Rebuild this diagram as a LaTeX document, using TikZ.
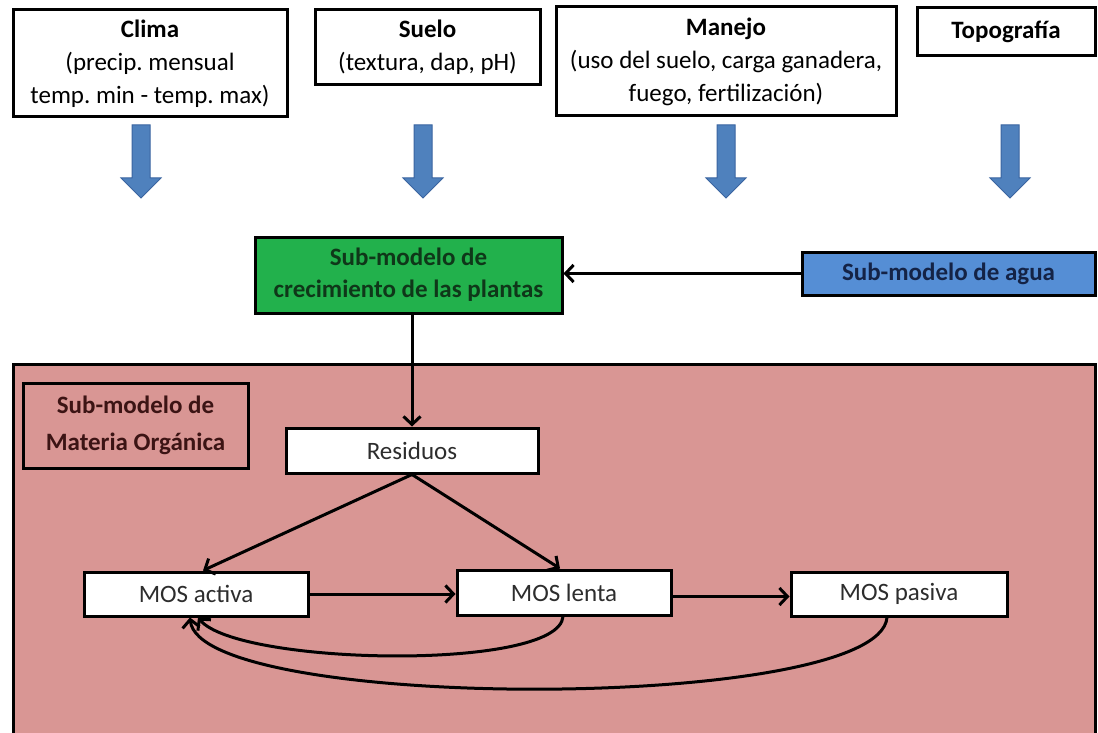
\documentclass[tikz,border=0pt]{standalone}
\usepackage{fontspec}
\setmainfont{Carlito}
\usetikzlibrary{arrows.meta}
\frenchspacing
\definecolor{boxgreen}{RGB}{34,177,76}
\definecolor{boxblue}{RGB}{85,142,213}
\definecolor{pinkbg}{RGB}{217,150,148}
\definecolor{arrowblue}{RGB}{79,129,189}
\definecolor{arrowedge}{RGB}{58,100,160}
\definecolor{gtext}{RGB}{15,55,25}
\definecolor{btext}{RGB}{20,35,70}
\definecolor{mtext}{RGB}{60,20,20}
\definecolor{wtext}{RGB}{45,45,45}
\tikzset{
  basebox/.style={draw=black, line width=3pt, rectangle, inner sep=0pt, align=center,
    font=\fontsize{25}{33}\selectfont},
  topbox/.style={basebox, fill=white},
  whitebox/.style={basebox, fill=white, text=wtext},
  conn/.style={line width=3pt, draw=black, -{Straight Barb[length=8pt,width=17pt,line width=3pt]}},
  bigarrow/.style={fill=arrowblue, draw=arrowedge, line width=1pt, line join=miter}
}
\begin{document}
\begin{tikzpicture}[x=1pt,y=-1pt]
\useasboundingbox (0,0) rectangle (1098,733);
\fill[white] (0,0) rectangle (1098,733);

% top boxes
\node[topbox, minimum width=274pt, minimum height=107pt] (clima) at (150,63.5)
  {\textbf{Clima}\\(precip. mensual\\temp. min - temp. max)};
\node[topbox, minimum width=225pt, minimum height=75pt] (suelo) at (427.5,47.5)
  {\textbf{Suelo}\\(textura, dap, pH)};
\node[topbox, minimum width=340pt, minimum height=109pt] (manejo) at (726,61.5)
  {\textbf{Manejo}\\(uso del suelo, carga ganadera,\\fuego, fertilización)};
\node[topbox, minimum width=178pt, minimum height=48pt] (topo) at (1006,32)
  {\textbf{Topografía}};

% block arrows
\foreach \cx in {141,423,726,1010}{
  \draw[bigarrow] (\cx-9,125) -- (\cx+9,125) -- (\cx+9,178) -- (\cx+20,178)
    -- (\cx,198) -- (\cx-20,178) -- (\cx-9,178) -- cycle;
}

% sub-models
\node[basebox, fill=boxgreen, text=gtext, minimum width=307pt, minimum height=76pt,
  font=\fontsize{25}{32}\selectfont\bfseries] (green) at (408.5,275)
  {Sub-modelo de\\crecimiento de las plantas};
\node[basebox, fill=boxblue, text=btext, minimum width=293pt, minimum height=43pt,
  font=\fontsize{25}{32}\selectfont\bfseries] (agua) at (948.5,273.5)
  {Sub-modelo de agua};

% organic matter container
\node[draw=black, line width=3pt, fill=pinkbg, rectangle, inner sep=0pt,
  minimum width=1082pt, minimum height=390pt] (mo) at (554,559) {};
\node[basebox, fill=pinkbg, text=mtext, minimum width=225pt, minimum height=85pt,
  font=\fontsize{25}{37}\selectfont\bfseries] (molabel) at (135.5,425.5)
  {Sub-modelo de\\Materia Orgánica};

\node[whitebox, minimum width=252pt, minimum height=45pt] (residuos) at (412,450.5) {Residuos};
\node[whitebox, minimum width=224pt, minimum height=44pt] (activa) at (196,594) {MOS activa};
\node[whitebox, minimum width=214pt, minimum height=45pt] (lenta) at (564,592.5) {MOS lenta};
\node[whitebox, minimum width=216pt, minimum height=44pt] (pasiva) at (899,594) {MOS pasiva};

% connectors
\draw[conn] (agua.west) -- (agua.west -| green.east);
\draw[conn] (residuos.north |- green.south) -- (residuos.north);
\draw[conn] (residuos.south) -- ([xshift=7pt]activa.north);
\draw[conn] (residuos.south) -- ([xshift=-4pt]lenta.north);
\draw[conn] (activa.east) -- (activa.east -| lenta.west);
\draw[conn] ([yshift=-4pt]lenta.east) -- ([yshift=-4pt]lenta.east -| pasiva.west);
\draw[conn] ([xshift=-1pt]lenta.south) .. controls +(-4,55) and +(40,48) .. ([xshift=2pt]activa.south);
\draw[conn] ([xshift=-12pt]pasiva.south) .. controls +(-8,95) and +(10,95) .. ([xshift=-6pt]activa.south);
\end{tikzpicture}
\end{document}
